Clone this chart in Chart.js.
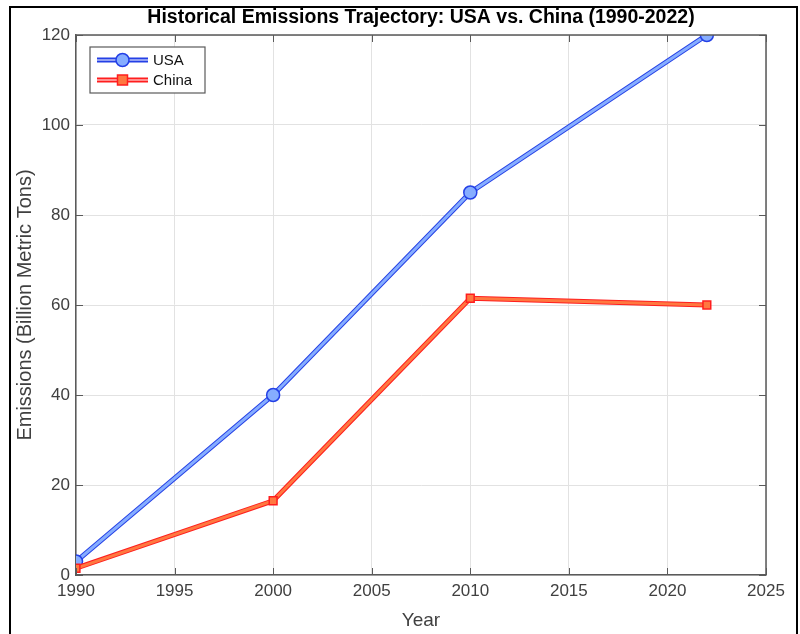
<!DOCTYPE html>
<html>
<head>
<meta charset="utf-8">
<script src="https://cdn.jsdelivr.net/npm/chart.js@4.4.1/dist/chart.umd.min.js"></script>
<style>
  html, body { margin: 0; padding: 0; background: #ffffff; }
  #wrap { width: 800px; height: 634px; position: relative; }
</style>
</head>
<body>
<div id="wrap"><canvas id="c" width="800" height="634"></canvas></div>
<script>
// Emissions trajectories, billion metric tons
const years = [1990, 2000, 2010, 2022];
const usaEmissions = [3, 40, 85, 120];
const chinaEmissions = [1.5, 16.5, 61.5, 60];
const xTicks = [1990, 1995, 2000, 2005, 2010, 2015, 2020, 2025];
const yTicks = [0, 20, 40, 60, 80, 100, 120];
const chartTitle = 'Historical Emissions Trajectory: USA vs. China (1990-2022)';

const toPoints = (vals) => years.map((y, i) => ({ x: y, y: vals[i] }));

const FONT = 'Liberation Sans, Arial, sans-serif';
const USA_OUTER = '#2440e6', USA_INNER = '#86adff';
const CHN_OUTER = '#ff1e1e', CHN_INNER = '#ff7840';

// Title centred over the plot, axes box, inward ticks, outer frame and legend
const decorations = {
  id: 'decorations',
  afterDraw(chart) {
    const { ctx, chartArea: a } = chart;
    ctx.save();

    ctx.fillStyle = '#000000';
    ctx.font = 'bold 19.5px ' + FONT;
    ctx.textAlign = 'center';
    ctx.textBaseline = 'middle';
    ctx.fillText(chartTitle, (a.left + a.right) / 2, 18);

    // closing box lines (top and right)
    ctx.strokeStyle = '#5a5a5a';
    ctx.lineWidth = 1.5;
    ctx.beginPath();
    ctx.moveTo(a.left, a.top);
    ctx.lineTo(a.right, a.top);
    ctx.lineTo(a.right, a.bottom);
    ctx.stroke();

    // short inward tick marks
    const xs = chart.scales.x, ys = chart.scales.y;
    ctx.lineWidth = 1;
    ctx.beginPath();
    xTicks.forEach(v => {
      const px = Math.round(xs.getPixelForValue(v)) + 0.5;
      ctx.moveTo(px, a.bottom); ctx.lineTo(px, a.bottom - 7);
      ctx.moveTo(px, a.top); ctx.lineTo(px, a.top + 7);
    });
    yTicks.forEach(v => {
      const py = Math.round(ys.getPixelForValue(v)) + 0.5;
      ctx.moveTo(a.left, py); ctx.lineTo(a.left + 7, py);
      ctx.moveTo(a.right, py); ctx.lineTo(a.right - 7, py);
    });
    ctx.stroke();

    // outer figure frame
    ctx.strokeStyle = '#000000';
    ctx.lineWidth = 2;
    ctx.beginPath();
    ctx.moveTo(10, 634);
    ctx.lineTo(10, 7);
    ctx.lineTo(797, 7);
    ctx.lineTo(797, 634);
    ctx.stroke();

    // legend
    const lx = 90, ly = 47, lw = 115, lh = 46;
    ctx.fillStyle = '#ffffff';
    ctx.fillRect(lx, ly, lw, lh);
    ctx.strokeStyle = '#5a5a5a';
    ctx.lineWidth = 1.2;
    ctx.strokeRect(lx, ly, lw, lh);

    const entries = [
      { label: 'USA', outer: USA_OUTER, inner: USA_INNER, marker: 'circle', y: ly + 13 },
      { label: 'China', outer: CHN_OUTER, inner: CHN_INNER, marker: 'rect', y: ly + 33 }
    ];
    entries.forEach(e => {
      const x0 = lx + 7, x1 = lx + 58, mx = (x0 + x1) / 2;
      ctx.lineCap = 'butt';
      ctx.strokeStyle = e.outer; ctx.lineWidth = 5;
      ctx.beginPath(); ctx.moveTo(x0, e.y); ctx.lineTo(x1, e.y); ctx.stroke();
      ctx.strokeStyle = '#ffffff'; ctx.lineWidth = 1;
      ctx.beginPath(); ctx.moveTo(x0, e.y); ctx.lineTo(x1, e.y); ctx.stroke();
      ctx.fillStyle = e.inner; ctx.strokeStyle = e.outer; ctx.lineWidth = 1.5;
      ctx.beginPath();
      if (e.marker === 'circle') ctx.arc(mx, e.y, 6.5, 0, Math.PI * 2);
      else ctx.rect(mx - 5, e.y - 5, 10, 10);
      ctx.fill(); ctx.stroke();
      ctx.fillStyle = '#111111';
      ctx.font = '15px ' + FONT;
      ctx.textBaseline = 'middle';
      ctx.textAlign = 'left';
      ctx.fillText(e.label, x1 + 5, e.y + 1);
    });
    ctx.restore();
  }
};

const lineSet = (label, vals, color, width, marker, radius, fill, border, order) => ({
  label,
  data: toPoints(vals),
  borderColor: color,
  borderWidth: width,
  pointStyle: marker,
  pointRadius: radius,
  pointBackgroundColor: fill,
  pointBorderColor: border,
  pointBorderWidth: radius ? 1.5 : 0,
  pointHoverRadius: radius,
  tension: 0,
  fill: false,
  order
});

new Chart(document.getElementById('c'), {
  type: 'line',
  data: {
    datasets: [
      lineSet('USA', usaEmissions, USA_OUTER, 5, 'circle', 0, USA_INNER, USA_OUTER, 4),
      lineSet('USA', usaEmissions, USA_INNER, 3, 'circle', 6.5, USA_INNER, USA_OUTER, 3),
      lineSet('China', chinaEmissions, CHN_OUTER, 5, 'rect', 0, CHN_INNER, CHN_OUTER, 2),
      lineSet('China', chinaEmissions, CHN_INNER, 3, 'rect', 5.5, CHN_INNER, CHN_OUTER, 1)
    ]
  },
  options: {
    responsive: false,
    animation: false,
    layout: { padding: { left: 10, right: 34, top: 35, bottom: 0 } },
    plugins: {
      legend: { display: false },
      tooltip: { enabled: false },
      title: { display: false }
    },
    scales: {
      x: {
        type: 'linear',
        min: 1990,
        max: 2025,
        afterBuildTicks(s) { s.ticks = xTicks.map(v => ({ value: v })); },
        afterFit(s) { s.height = 59; },
        ticks: {
          color: '#404040',
          font: { family: FONT, size: 17 },
          padding: 6,
          callback: v => String(v)
        },
        grid: { color: '#e2e2e2', lineWidth: 1, drawTicks: false },
        border: { display: true, color: '#5a5a5a', width: 1.5 },
        title: {
          display: true,
          text: 'Year',
          color: '#404040',
          font: { family: FONT, size: 19 },
          padding: { top: 0, bottom: 2 }
        }
      },
      y: {
        type: 'linear',
        min: 0,
        max: 120,
        afterBuildTicks(s) { s.ticks = yTicks.map(v => ({ value: v })); },
        afterFit(s) { s.width = 66; },
        ticks: {
          color: '#404040',
          font: { family: FONT, size: 17 },
          padding: 6
        },
        grid: { color: '#e2e2e2', lineWidth: 1, drawTicks: false },
        border: { display: true, color: '#5a5a5a', width: 1.5 },
        title: {
          display: true,
          text: 'Emissions (Billion Metric Tons)',
          color: '#404040',
          font: { family: FONT, size: 20 },
          padding: { top: 3, bottom: 0 }
        }
      }
    }
  },
  plugins: [decorations]
});
</script>
</body>
</html>
